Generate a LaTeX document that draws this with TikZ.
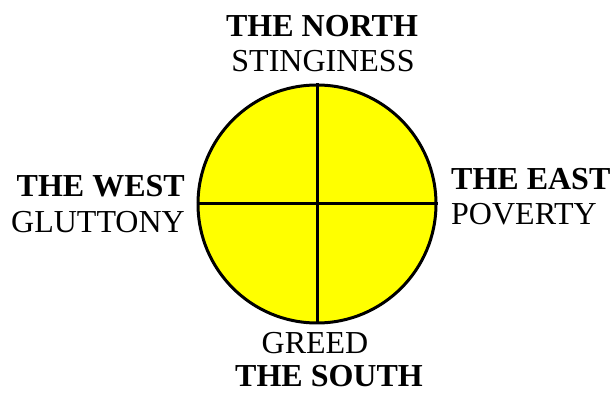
\documentclass[tikz,border=0pt]{standalone}
\usepackage{fontspec}
\setmainfont{Liberation Serif}
\usepackage{tikz}
\usetikzlibrary{positioning, calc}
\definecolor{wheelyellow}{RGB}{255,255,0}
\tikzset{
  wheel/.style={
    circle, draw=black, line width=3pt, fill=wheelyellow,
    minimum size=238pt, inner sep=0pt
  },
  spoke/.style={line width=3pt, draw=black},
  direction/.style={
    inner sep=0pt, anchor=base, font=\fontsize{32}{34}\selectfont\bfseries
  },
  vice/.style={
    inner sep=0pt, anchor=base, font=\fontsize{32}{34}\selectfont
  }
}
\begin{document}
\begin{tikzpicture}[x=1pt, y=1pt]
\useasboundingbox (0,0) rectangle (611,394);

% Medicine wheel
\node[wheel] (wh) at (317,190) {};
\draw[spoke] (wh.north) -- (wh.south);
\draw[spoke] (wh.west) -- (wh.east);

% North
\node[direction] (north) at (322,357) {THE NORTH};
\node[vice] (stingy) at (323,322) {STINGINESS};

% West
\node[direction, anchor=base east] (west) at (185,197) {THE WEST};
\node[vice, anchor=base east] (glut) at (185,161) {GLUTTONY};

% East
\node[direction, anchor=base west] (east) at (451,204) {THE EAST};
\node[vice, anchor=base west] (pov) at (451,169) {POVERTY};

% South
\node[vice] (greed) at (315,41) {GREED};
\node[direction] (south) at (329,8) {THE SOUTH};

\end{tikzpicture}
\end{document}
